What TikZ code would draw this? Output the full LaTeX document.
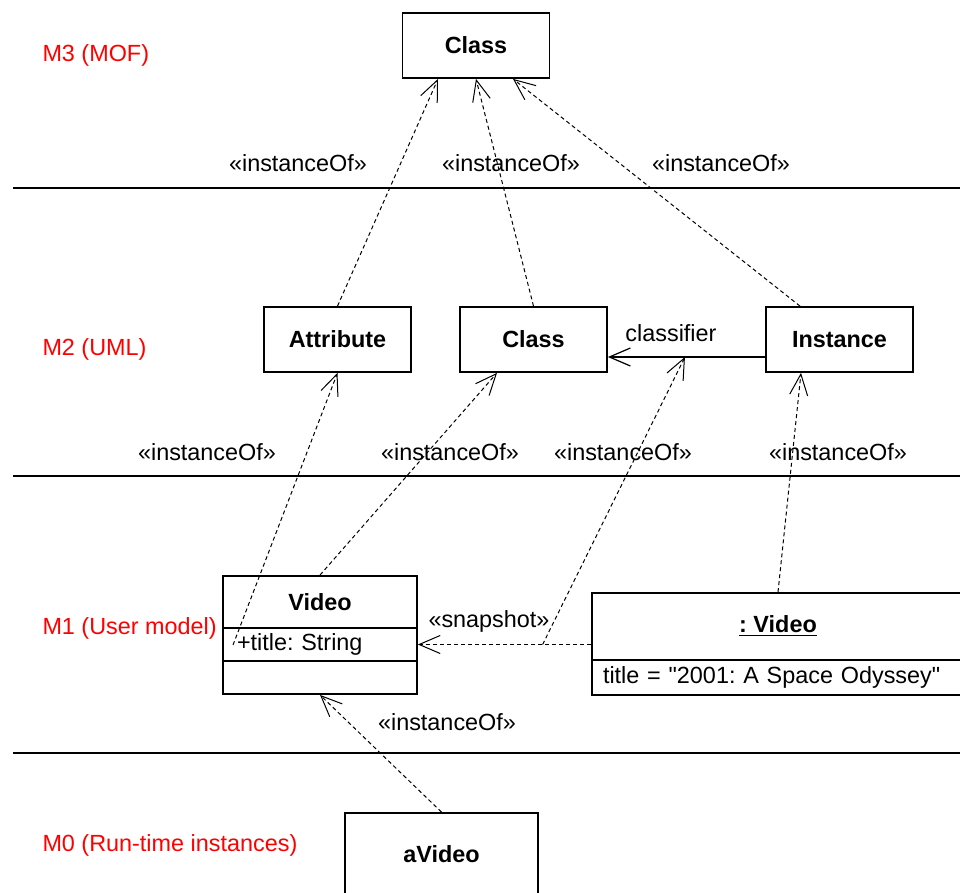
\documentclass[tikz,border=0pt]{standalone}
\usepackage{fontspec}
\setmainfont{Liberation Sans}[Ligatures=TeXOff]
\usetikzlibrary{arrows.meta}
\frenchspacing

\begin{document}
\begin{tikzpicture}[x = 0.5pt, y = -0.5pt,
        every node/.style={inner sep=0pt, font=\fontsize{11.7}{14}\selectfont},
        every path/.style={line width=0.5pt}
]
\tikzstyle{block}= [draw, line width=0.9pt, minimum width=73.5pt, minimum height=32.5pt, font=\fontsize{11.7}{14}\selectfont\bfseries]
\tikzstyle{slot}= [draw, line width=0.9pt, minimum width=97pt, minimum height=16.5pt, text width=83pt, inner xsep=7pt, align=left]
\tikzstyle{layer}= [text=red, anchor=west]
\tikzstyle{dep}= [dash pattern=on 2pt off 1.5pt, -{Straight Barb[length=10.5pt, width=9pt]}]
\tikzstyle{assoc}= [line width=0.6pt, -{Straight Barb[length=10.5pt, width=9pt]}]
    \useasboundingbox (0,0) rectangle (960,893);
    \node[layer] (m3) at (42,55) {M3 (MOF)};
    \node[layer] (m2) at (42,349) {M2 (UML)};
    \node[layer] (m1) at (42,628) {M1 (User model)};
    \node[layer] (m0) at (42,845) {M0 (Run-time instances)};
    \foreach \ly in {188,476,753}
        \draw[line width=0.8pt] (13,\ly) -- (960,\ly);
    \node[block] (cls3) at (476,45.5) {Class};
    \node[block] (attr) at (337.5,339.5) {Attribute};
    \node[block] (cls2) at (533.5,339.5) {Class};
    \node[block] (inst) at (839.5,339.5) {Instance};
    \node[block, minimum width=97pt, minimum height=26pt] (vhead) at (320,602) {Video};
    \node[slot] (vattr) at (320,644.5) {+title: String};
    \node[slot] (vops) at (320,677.5) {};
    \node[block, minimum width=186pt, minimum height=33.5pt] (vobj) at (778,626.5) {\underline{: Video}};
    \node[slot, minimum width=186pt, minimum height=17.5pt, text width=175pt, inner xsep=5.5pt] (vslot) at (778,677.5) {title = "2001: A Space Odyssey"};
    \node[block, minimum width=96.5pt, minimum height=41pt] (avid) at (441.5,854) {aVideo};

    \node (io1) at (298,163) {«instanceOf»};
    \node (io2) at (511,163) {«instanceOf»};
    \node (io3) at (721,163) {«instanceOf»};
    \node (io4) at (207,452) {«instanceOf»};
    \node (io5) at (450,452) {«instanceOf»};
    \node (io6) at (623,452) {«instanceOf»};
    \node (io7) at (838,452) {«instanceOf»};
    \node (io8) at (447,722) {«instanceOf»};
    \node (snap) at (489,621) {«snapshot»};
    \node (clsf) at (671,333) {classifier};

    \draw[dep] (attr.north) -- ([xshift=-19pt]cls3.south);
    \draw[dep] (cls2.north) -- (cls3.south);
    \draw[dep] ([xshift=-19.75pt]inst.north) -- ([xshift=18.5pt]cls3.south);
    \draw[assoc] ([yshift=-8.75pt]inst.west) -- coordinate[pos=0.51] (clsmid) ([yshift=-8.75pt]cls2.east);
    \draw[dep] (vhead.north) -- ([xshift=-18.25pt]cls2.south);
    \draw[dep] (vobj.north) -- ([xshift=-19.25pt]inst.south);
    \draw[dep] (vattr.east -| vobj.west) -- coordinate[pos=0.28] (snapmid) (vattr.east);
    \draw[dep] (snapmid) -- (clsmid);
    \coordinate (titlept) at (233,645);
    \draw[dep] (titlept) -- (attr.south);
    \draw[dep] (avid.north) -- (vops.south);
\end{tikzpicture}
\end{document}
